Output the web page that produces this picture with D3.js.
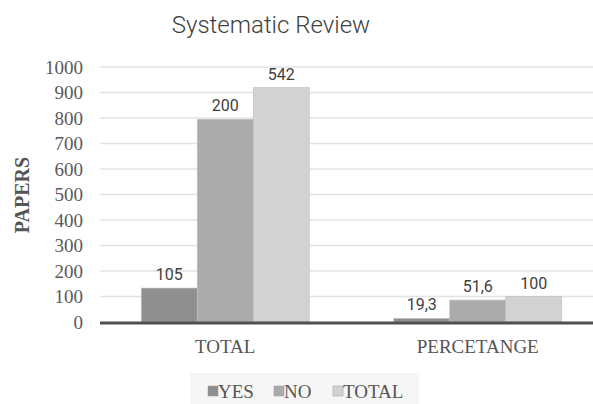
<!DOCTYPE html>
<html>
<head>
<meta charset="utf-8">
<script src="https://cdn.jsdelivr.net/npm/d3@7"></script>
<style>
  body { margin: 0; background: #fff; }
  svg { display: block; }
</style>
</head>
<body>
<script>
// data
var categories = ["TOTAL", "PERCETANGE"];
var seriesNames = ["YES", "NO", "TOTAL"];
// bar heights as drawn (the printed labels don't match the heights in the original)
var barValues = [[133, 795, 919], [14, 86, 100]];
var barLabels = [["105", "200", "542"], ["19,3", "51,6", "100"]];
var yTicks = [0, 100, 200, 300, 400, 500, 600, 700, 800, 900, 1000];
var colors = ["#8f8f8f", "#ababab", "#d2d2d2"];

var width = 593, height = 404;

var svg = d3.select("body").append("svg")
    .attr("width", width)
    .attr("height", height);

var y = d3.scaleLinear().domain([0, 1000]).range([322, 67]);
var x0 = d3.scaleBand().domain(categories).range([99, 604]);
var x1 = d3.scaleBand().domain(seriesNames).range([0, 168]);
var groupOffset = (x0.bandwidth() - 168) / 2;

// title
svg.append("text")
    .attr("x", 271).attr("y", 33)
    .attr("text-anchor", "middle")
    .style("font-family", "Roboto, 'Open Sans', sans-serif")
    .style("font-weight", 300)
    .style("font-size", "24px")
    .style("fill", "#404040")
    .text("Systematic Review");

// gridlines
svg.append("g").selectAll("line")
    .data(yTicks.slice(1))
    .enter().append("line")
    .attr("x1", 100).attr("x2", 593)
    .attr("y1", function (d) { return y(d); })
    .attr("y2", function (d) { return y(d); })
    .attr("stroke", "#e3e3e3")
    .attr("stroke-width", 1.5);

// y axis labels
var yAxis = d3.axisLeft(y).tickValues(yTicks).tickFormat(d3.format("d")).tickSize(0).tickPadding(0);
var ya = svg.append("g").attr("transform", "translate(83,0)").call(yAxis);
ya.select(".domain").remove();
ya.selectAll("text")
    .style("font-family", "'Liberation Serif', serif")
    .style("font-size", "19px")
    .style("fill", "#5a5a5a");

// y title
svg.append("text")
    .attr("transform", "translate(29,195) rotate(-90)")
    .attr("text-anchor", "middle")
    .style("font-family", "'Liberation Serif', serif")
    .style("font-weight", "bold")
    .style("font-size", "20px")
    .style("fill", "#555")
    .text("PAPERS");

// bars
var groups = svg.append("g").selectAll("g")
    .data(categories)
    .enter().append("g")
    .attr("transform", function (d) { return "translate(" + (x0(d) + groupOffset) + ",0)"; });

function rows(d, i) {
  return seriesNames.map(function (s, j) { return { s: s, v: barValues[i][j], lab: barLabels[i][j], c: colors[j] }; });
}

groups.selectAll("rect")
    .data(rows)
    .enter().append("rect")
    .attr("x", function (d) { return x1(d.s); })
    .attr("y", function (d) { return y(d.v); })
    .attr("width", x1.bandwidth())
    .attr("height", function (d) { return y(0) - y(d.v); })
    .attr("fill", function (d) { return d.c; })
    .attr("stroke", "#bdbdbd")
    .attr("stroke-width", 0.6);

groups.selectAll("text")
    .data(rows)
    .enter().append("text")
    .attr("x", function (d) { return x1(d.s) + x1.bandwidth() / 2; })
    .attr("y", function (d) { return y(d.v) - 8; })
    .attr("text-anchor", "middle")
    .style("font-family", "Roboto, 'Open Sans', sans-serif")
    .style("font-size", "16px")
    .style("fill", "#404040")
    .text(function (d) { return d.lab; });

// baseline
svg.append("line")
    .attr("x1", 100).attr("x2", 593)
    .attr("y1", y(0) + 1).attr("y2", y(0) + 1)
    .attr("stroke", "#505050")
    .attr("stroke-width", 3);

// category labels
svg.append("g").selectAll("text")
    .data(categories)
    .enter().append("text")
    .attr("x", function (d) { return x0(d) + x0.bandwidth() / 2; })
    .attr("y", 353)
    .attr("text-anchor", "middle")
    .style("font-family", "'Liberation Serif', serif")
    .style("font-size", "19px")
    .style("fill", "#555")
    .text(function (d) { return d; });

// legend
svg.append("rect")
    .attr("x", 190).attr("y", 373).attr("width", 229).attr("height", 31)
    .attr("fill", "#f6f6f6");
var legX = [208, 274, 333];
var leg = svg.append("g").selectAll("g")
    .data(seriesNames)
    .enter().append("g")
    .attr("transform", function (d, i) { return "translate(" + legX[i] + ",386)"; });
leg.append("rect")
    .attr("width", 10).attr("height", 10)
    .attr("fill", function (d, i) { return colors[i]; })
    .attr("stroke", "#999").attr("stroke-width", 0.5);
leg.append("text")
    .attr("x", 10).attr("y", 12)
    .style("font-family", "'Liberation Serif', serif")
    .style("font-size", "19px")
    .style("fill", "#555")
    .text(function (d) { return d; });
</script>
</body>
</html>
